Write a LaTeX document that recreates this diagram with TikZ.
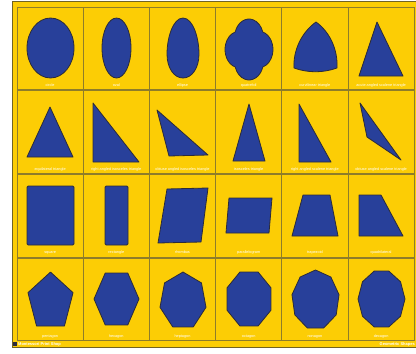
\documentclass[tikz,border=0pt]{standalone}
\usepackage{fontspec}
\setmainfont{Liberation Sans}
\definecolor{cardyellow}{HTML}{FCCD05}
\definecolor{cardline}{HTML}{8E7C2A}
\definecolor{shapeblue}{HTML}{28409A}
\definecolor{shapeline}{HTML}{2B2B3A}
\tikzset{
  cellbox/.style={draw=cardline, line width=0.7pt, fill=cardyellow},
  blueshape/.style={fill=shapeblue, draw=shapeline, line width=0.8pt, line join=round},
  lbl/.style={text=white, font=\fontsize{3.8}{4}\selectfont, inner sep=0pt, anchor=base},
  foot/.style={text=white, font=\bfseries\fontsize{4}{4.5}\selectfont, inner sep=0pt}
}
\begin{document}
\begin{tikzpicture}[x=1pt,y=-1pt]
\useasboundingbox (0,0) rectangle (416,354);
\fill[white] (0,0) rectangle (416,354);
% outer panel
\fill[cardyellow] (12,1) rectangle (418,347);
\draw[cardline!80!black, line width=0.9pt] (12,1) -- (418,1);
\draw[cardline!80!black, line width=0.9pt] (12,1) -- (12,347) -- (418,347);
\fill[shapeline] (13,342) rectangle (17,346);
% cells and labels
\foreach \lab [count=\k from 0] in {circle, oval, ellipse, quatrefoil, curvilinear triangle, acute angled scalene triangle,
  equilateral triangle, right angled isosceles triangle, obtuse angled isosceles triangle, isosceles triangle, right angled scalene triangle, obtuse angled scalene triangle,
  square, rectangle, rhombus, parallelogram, trapezoid, quadrilateral,
  pentagon, hexagon, heptagon, octagon, nonagon, decagon}{
  \pgfmathsetmacro{\col}{mod(\k,6)}
  \pgfmathsetmacro{\row}{int(\k/6)}
  \pgfmathsetmacro{\xl}{17+\col*66.2}
  \pgfmathsetmacro{\yt}{7+\row*83.67}
  \draw[cellbox] (\xl,\yt) rectangle ++(66.2,82.8);
  \node[lbl] (l\k) at (\xl+33.1,\yt+79.6) {\lab};
}
% ---------- row 1
\draw[blueshape] (50.5,48) ellipse [x radius=23.5, y radius=30];
\draw[blueshape] (116.5,48) ellipse [x radius=14.5, y radius=30];
\draw[blueshape] (183,18) .. controls (193,18) and (199,38) .. (199,54)
  .. controls (199,68) and (192,78) .. (183,78)
  .. controls (174,78) and (167,68) .. (167,54)
  .. controls (167,38) and (173,18) .. (183,18) -- cycle;
\begin{scope}[shift={(249,49.5)}, xscale=12, yscale=15.25]
  \draw[blueshape] (1.148,1.148) arc[start angle=16.9, end angle=163.1, radius=1.2]
    arc[start angle=106.9, end angle=253.1, radius=1.2]
    arc[start angle=196.9, end angle=343.1, radius=1.2]
    arc[start angle=286.9, end angle=433.1, radius=1.2] -- cycle;
\end{scope}
\draw[blueshape] (316,22) .. controls (302,32) and (293,50) .. (294,68)
  .. controls (308,73) and (323,73) .. (337,68)
  .. controls (338,50) and (330,32) .. (316,22) -- cycle;
\draw[blueshape] (377,22) -- (403,76) -- (359,76) -- cycle;
% ---------- row 2
\draw[blueshape] (50,107) -- (73,157) -- (27,157) -- cycle;
\draw[blueshape] (93,103) -- (139,162) -- (93,162) -- cycle;
\draw[blueshape] (157,110) -- (208,155) -- (169,156) -- cycle;
\draw[blueshape] (249,104) -- (265,161) -- (233,161) -- cycle;
\draw[blueshape] (299,104) -- (331,162) -- (299,162) -- cycle;
\draw[blueshape] (360,103) -- (401,160) -- (367,137) -- cycle;
% ---------- row 3
\draw[blueshape, rounded corners=1.2pt] (27,186) rectangle (74,245);
\draw[blueshape, rounded corners=1.2pt] (105,186) rectangle (128,245);
\draw[blueshape] (167,189) -- (208,188) -- (201,242) -- (158,243) -- cycle;
\draw[blueshape] (229,198) -- (272,198) -- (269,233) -- (226,233) -- cycle;
\draw[blueshape] (303,195) -- (330,195) -- (338,236) -- (292,236) -- cycle;
\draw[blueshape] (359,195) -- (381,195) -- (403,236) -- (359,236) -- cycle;
% ---------- row 4
\begin{scope}[shift={(50.5,301.9)}, xscale=23.7, yscale=29.85]
  \draw[blueshape] (-90:1) \foreach \i in {1,...,4}{ -- (-90+\i*72:1) } -- cycle;
\end{scope}
\begin{scope}[shift={(116.5,299)}, xscale=22.5, yscale=30]
  \draw[blueshape] (0:1) \foreach \i in {1,...,5}{ -- (\i*60:1) } -- cycle;
\end{scope}
\begin{scope}[shift={(183,300.9)}, xscale=23.6, yscale=28.9]
  \draw[blueshape] (-90:1) \foreach \i in {1,...,6}{ -- (-90+\i*51.4286:1) } -- cycle;
\end{scope}
\begin{scope}[shift={(249,299)}, xscale=23.8, yscale=29.2]
  \draw[blueshape] (22.5:1) \foreach \i in {1,...,7}{ -- (22.5+\i*45:1) } -- cycle;
\end{scope}
\begin{scope}[shift={(315.5,299.9)}, xscale=23.9, yscale=29.9]
  \draw[blueshape] (-90:1) \foreach \i in {1,...,8}{ -- (-90+\i*40:1) } -- cycle;
\end{scope}
\begin{scope}[shift={(381.5,299)}, xscale=23.5, yscale=29.4]
  \draw[blueshape] (0:1) \foreach \i in {1,...,9}{ -- (\i*36:1) } -- cycle;
\end{scope}
% footer texts
\node[foot, anchor=west] (footl) at (18,344.3) {Montessori Print Shop};
\node[foot, anchor=east] (footr) at (415,344.3) {Geometric Shapes};
\end{tikzpicture}
\end{document}
